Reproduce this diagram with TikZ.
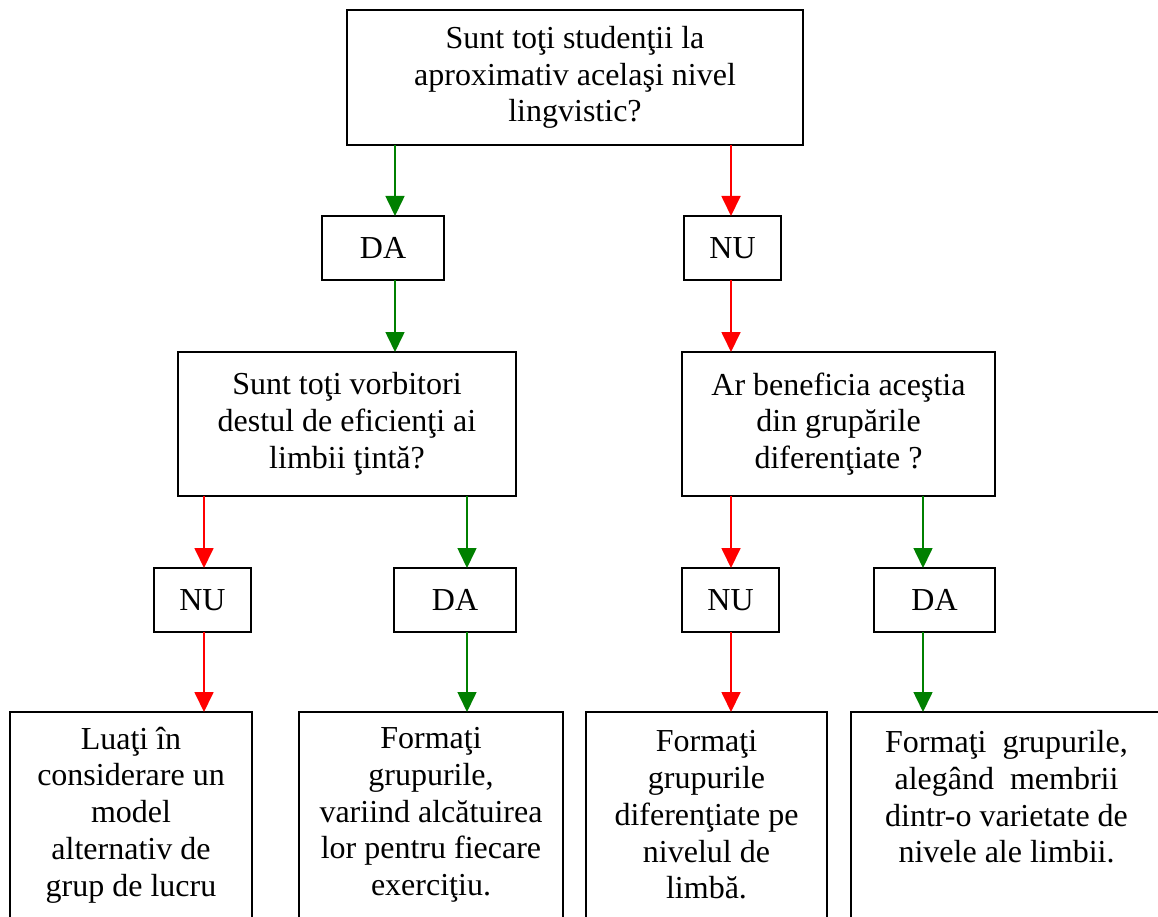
\documentclass[tikz,border=0pt]{standalone}
\usepackage{fontspec}
\setmainfont{Liberation Serif}
\usetikzlibrary{arrows.meta}
\definecolor{yesgreen}{RGB}{0,128,0}
\definecolor{nored}{RGB}{255,0,0}
\begin{document}
\begin{tikzpicture}[x=1pt,y=-1pt,
  box/.style={draw=black, line width=2pt, inner sep=0pt, outer sep=0pt, align=center,
    font=\fontsize{32}{36.7}\selectfont},
  yes/.style={color=yesgreen, line width=1.6pt, -{Triangle[length=20pt,width=19pt]}},
  no/.style={color=nored, line width=1.8pt, -{Triangle[length=20pt,width=19pt]}}]
\useasboundingbox (0,0) rectangle (1158,917);
\clip (0,0) rectangle (1158,917);
\fill[white] (0,0) rectangle (1158,917);

% nodes
\node[box, minimum width=456pt, minimum height=135pt] (top) at (575,77.5)
  {Sunt toţi studenţii la\\aproximativ acelaşi nivel\\lingvistic?};
\node[box, minimum width=122pt, minimum height=64pt] (da1) at (383,248) {DA};
\node[box, minimum width=97pt, minimum height=64pt] (nu1) at (732.5,248) {NU};
\node[box, minimum width=338pt, minimum height=144pt] (q2) at (347,424)
  {Sunt toţi vorbitori\\destul de eficienţi ai\\limbii ţintă?};
\node[box, minimum width=313pt, minimum height=144pt] (q3) at (838.5,424)
  {Ar beneficia aceştia\\din grupările\\diferenţiate ?};
\node[box, minimum width=97pt, minimum height=64pt] (nu2) at (202.5,600) {NU};
\node[box, minimum width=122pt, minimum height=64pt] (da2) at (455,600) {DA};
\node[box, minimum width=97pt, minimum height=64pt] (nu3) at (730.5,600) {NU};
\node[box, minimum width=121pt, minimum height=64pt] (da3) at (934.5,600) {DA};
\node[box, minimum width=242pt, minimum height=206pt, anchor=north] (ra) at (131,712)
  {Luaţi în\\considerare un\\model\\alternativ de\\grup de lucru};
\node[box, minimum width=264pt, minimum height=206pt, anchor=north] (rb) at (431,712)
  {Formaţi\\grupurile,\\variind alcătuirea\\lor pentru fiecare\\exerciţiu.};
\node[box, minimum width=241pt, minimum height=206pt, anchor=north] (rc) at (706.5,712)
  {Formaţi\\grupurile\\diferenţiate pe\\nivelul de\\limbă.};
\node[box, minimum width=311pt, minimum height=206pt, anchor=north] (rd) at (1006.5,712)
  {Formaţi~ grupurile,\\alegând~ membrii\\dintr-o varietate de\\nivele ale limbii.\\\mbox{}};

% x positions of connectors
\coordinate (xa) at (395,0);
\coordinate (xb) at (731,0);
\coordinate (xc) at (204,0);
\coordinate (xd) at (467,0);
\coordinate (xe) at (923,0);

% connectors
\draw[yes] (top.south -| xa) -- (da1.north -| xa);
\draw[no]  (top.south -| xb) -- (nu1.north -| xb);
\draw[yes] (da1.south -| xa) -- (q2.north -| xa);
\draw[no]  (nu1.south -| xb) -- (q3.north -| xb);
\draw[no]  (q2.south -| xc) -- (nu2.north -| xc);
\draw[yes] (q2.south -| xd) -- (da2.north -| xd);
\draw[no]  (q3.south -| xb) -- (nu3.north -| xb);
\draw[yes] (q3.south -| xe) -- (da3.north -| xe);
\draw[no]  (nu2.south -| xc) -- (ra.north -| xc);
\draw[yes] (da2.south -| xd) -- (rb.north -| xd);
\draw[no]  (nu3.south -| xb) -- (rc.north -| xb);
\draw[yes] (da3.south -| xe) -- (rd.north -| xe);
\end{tikzpicture}
\end{document}
